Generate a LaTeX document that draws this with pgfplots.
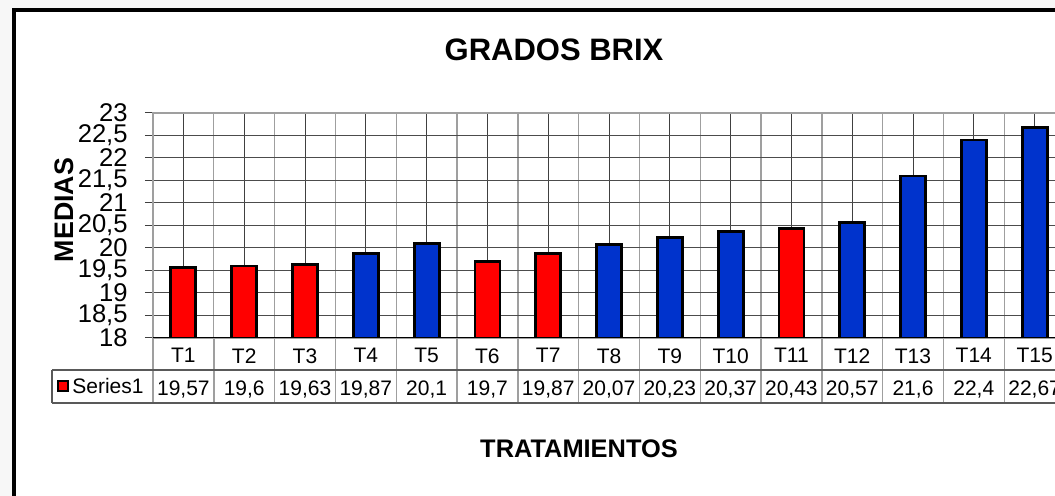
\documentclass[border=0pt]{standalone}
\usepackage{fontspec}
\setmainfont{Liberation Sans}
\usepackage{pgfplots}
\pgfplotsset{compat=1.18}
\definecolor{barred}{RGB}{255,0,0}
\definecolor{barblue}{RGB}{0,51,204}

% medias por tratamiento (rojo / azul)
\pgfplotstableread{
x y
1 19.57
2 19.60
3 19.63
6 19.70
7 19.87
11 20.43
}\rojos
\pgfplotstableread{
x y
4 19.87
5 20.10
8 20.07
9 20.23
10 20.37
12 20.57
13 21.60
14 22.40
15 22.67
}\azules

\begin{document}
\begin{tikzpicture}[x=0.5pt,y=0.5pt]
\useasboundingbox (0,0) rectangle (1055,496);
% fondo y marco
\fill[gray!6] (0,0) rectangle (1055,496);
\fill[white] (14,-20) rectangle (1080,486);
\draw[line width=2.2pt] (14,-20) |- (1080,486);

% tabla de datos
\foreach \k in {0,...,15}
  \draw[gray!75, line width=0.7pt] (153+\k*60.8,93) -- (153+\k*60.8,158);
\draw[black!65, line width=0.6pt] (52,126) -- (1080,126);
\draw[black!65, line width=0.6pt] (52,93) -- (1080,93);
\draw[black!65, line width=0.6pt] (52,93) -- (52,126);
\fill[barred, draw=black, line width=0.6pt] (58,105) rectangle (68,115);
\node[anchor=west, inner sep=0pt, font=\fontsize{10.5}{12}\selectfont] at (72,109.5) {Series1};

\begin{axis}[
  at={(76.5pt,79pt)}, anchor=south west,
  scale only axis, width=456pt, height=112.5pt,
  xmin=0.5, xmax=15.5, ymin=18, ymax=23,
  xtick={1,...,15},
  minor xtick={0.5,1.5,...,15.5},
  xticklabels={{T1\\19,57},{T2\\19,6},{T3\\19,63},{T4\\19,87},{T5\\20,1},
    {T6\\19,7},{T7\\19,87},{T8\\20,07},{T9\\20,23},{T10\\20,37},
    {T11\\20,43},{T12\\20,57},{T13\\21,6},{T14\\22,4},{T15\\22,67}},
  xticklabel style={font=\fontsize{10.5}{16.25}\selectfont, align=center, anchor=north, yshift=2.3pt},
  xtick style={draw=none},
  minor x tick style={draw=none},
  ytick={18,18.5,19,19.5,20,20.5,21,21.5,22,22.5,23},
  yticklabels={18,{18,5},19,{19,5},20,{20,5},21,{21,5},22,{22,5},23},
  yticklabel style={font=\fontsize{12.8}{13}\selectfont, anchor=east, inner sep=0pt, xshift=-8.5pt},
  tick align=outside, major tick length=4pt,
  ytick style={black!75, line width=0.5pt},
  xmajorgrids, xminorgrids, ymajorgrids,
  major x grid style={black!75, line width=0.5pt},
  minor x grid style={gray!75, line width=0.7pt},
  major y grid style={black!70, line width=0.5pt},
  axis line style={gray!75, line width=0.8pt},
  ybar, bar width=12.5pt, bar shift=0pt,
]
\addplot[fill=barred, draw=black, line width=1.4pt] table[x=x,y=y] {\rojos};
\addplot[fill=barblue, draw=black, line width=1.4pt] table[x=x,y=y] {\azules};
\draw[black, line width=0.8pt] (rel axis cs:0,0) -- (rel axis cs:1,0);
\end{axis}

% titulos
\node[font=\bfseries\fontsize{15.5}{16}\selectfont] at (554,446) {GRADOS BRIX};
\node[font=\bfseries\fontsize{12.7}{13}\selectfont] at (579,47) {TRATAMIENTOS};
\node[rotate=90, font=\bfseries\fontsize{13.4}{14}\selectfont] at (64,286) {MEDIAS};
\end{tikzpicture}
\end{document}
